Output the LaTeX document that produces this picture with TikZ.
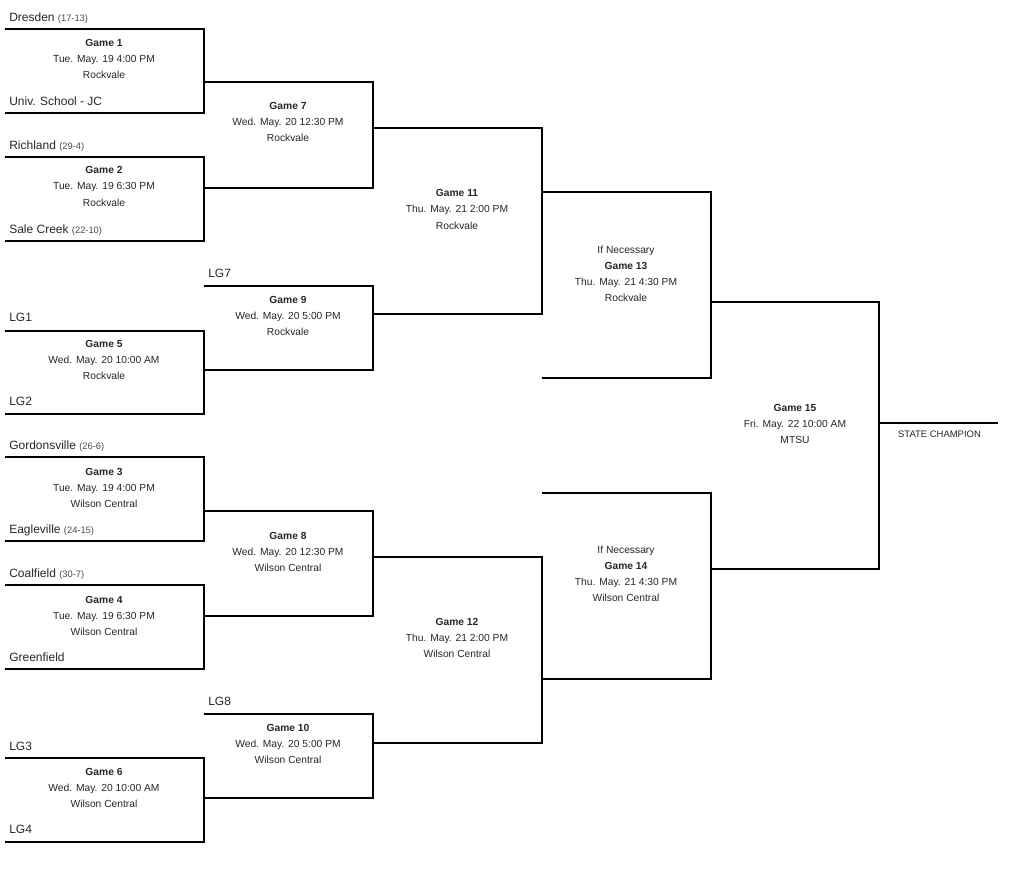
\documentclass[tikz,border=0pt]{standalone}
\usepackage{fontspec}
\setmainfont{Liberation Sans}
\definecolor{txt}{HTML}{262626}
\definecolor{rec}{HTML}{4A4A4A}
\tikzset{
  br/.style={draw=black, line width=1pt},
  team/.style={anchor=base west, inner sep=0pt, text=txt, font=\fontsize{9}{10}\selectfont},
  gtxt/.style={anchor=base, inner sep=0pt, text=txt, font=\fontsize{7.7}{9}\selectfont},
  gbold/.style={gtxt, font=\fontsize{7.7}{9}\selectfont\bfseries},
}
\newcommand{\rec}[1]{{\fontsize{7}{8}\selectfont\color{rec}#1}}
\newcommand{\bracketbox}[5]{%
  \coordinate (#1-tl) at (#2,#4);
  \coordinate (#1-tr) at (#3,#4);
  \coordinate (#1-br) at (#3,#5);
  \coordinate (#1-bl) at (#2,#5);
  \draw[br] (#1-tl) -- (#1-tr) -- (#1-br) -- (#1-bl);
}
\newcommand{\gameinfo}[6]{%
  \node[gbold] (#1-a) at (#2,#3+4) {#4};
  \node[gtxt] (#1-b) at (#2,#3+20) {#5};
  \node[gtxt] (#1-c) at (#2,#3+36) {#6};
}
\begin{document}
\begin{tikzpicture}[x=0.75pt,y=-0.75pt]
\useasboundingbox (0,0) rectangle (1010,870);
% brackets
\bracketbox{g1}{5}{204}{29}{113}
\bracketbox{g2}{5}{204}{157}{241}
\bracketbox{g5}{5}{204}{331}{414}
\bracketbox{g3}{5}{204}{457}{541}
\bracketbox{g4}{5}{204}{585}{669}
\bracketbox{g6}{5}{204}{758}{842}
\bracketbox{g7}{204}{373}{82}{188}
\bracketbox{g9}{204}{373}{286}{370}
\bracketbox{g8}{204}{373}{511}{616}
\bracketbox{g10}{204}{373}{714}{798}
\bracketbox{g11}{373}{542}{128}{314}
\bracketbox{g12}{373}{542}{557}{743}
\bracketbox{g13}{542}{711}{192}{378}
\bracketbox{g14}{542}{711}{493}{679}
\bracketbox{g15}{711}{879}{302}{569}
\coordinate (champ-a) at (879,423);
\coordinate (champ-b) at (998,423);
\draw[br] (champ-a) -- (champ-b);
% teams
\node[team] (t1) at (9,17+4.3) {Dresden \rec{(17-13)}};
\node[team] (t2) at (9,101+4.3) {Univ. School - JC};
\node[team] (t3) at (9,145+4.3) {Richland \rec{(29-4)}};
\node[team] (t4) at (9,229+4.3) {Sale Creek \rec{(22-10)}};
\node[team] (lg7) at (208,273+4.3) {LG7};
\node[team] (lg1) at (9,317+4.3) {LG1};
\node[team] (lg2) at (9,401+4.3) {LG2};
\node[team] (t5) at (9,445+4.3) {Gordonsville \rec{(26-6)}};
\node[team] (t6) at (9,529+4.3) {Eagleville \rec{(24-15)}};
\node[team] (t7) at (9,573+4.3) {Coalfield \rec{(30-7)}};
\node[team] (t8) at (9,657+4.3) {Greenfield};
\node[team] (lg8) at (208,701+4.3) {LG8};
\node[team] (lg3) at (9,746+4.3) {LG3};
\node[team] (lg4) at (9,829+4.3) {LG4};
% games
\gameinfo{i1}{104}{43}{Game 1}{Tue. May. 19 4:00 PM}{Rockvale}
\gameinfo{i2}{104}{170}{Game 2}{Tue. May. 19 6:30 PM}{Rockvale}
\gameinfo{i5}{104}{343}{Game 5}{Wed. May. 20 10:00 AM}{Rockvale}
\gameinfo{i3}{104}{471}{Game 3}{Tue. May. 19 4:00 PM}{Wilson Central}
\gameinfo{i4}{104}{599}{Game 4}{Tue. May. 19 6:30 PM}{Wilson Central}
\gameinfo{i6}{104}{771}{Game 6}{Wed. May. 20 10:00 AM}{Wilson Central}
\gameinfo{i7}{288}{106}{Game 7}{Wed. May. 20 12:30 PM}{Rockvale}
\gameinfo{i9}{288}{299}{Game 9}{Wed. May. 20 5:00 PM}{Rockvale}
\gameinfo{i8}{288}{535}{Game 8}{Wed. May. 20 12:30 PM}{Wilson Central}
\gameinfo{i10}{288}{727}{Game 10}{Wed. May. 20 5:00 PM}{Wilson Central}
\gameinfo{i11}{457}{193}{Game 11}{Thu. May. 21 2:00 PM}{Rockvale}
\gameinfo{i12}{457}{621}{Game 12}{Thu. May. 21 2:00 PM}{Wilson Central}
\node[gtxt] (i13-n) at (626,249+4) {If Necessary};
\gameinfo{i13}{626}{265}{Game 13}{Thu. May. 21 4:30 PM}{Rockvale}
\node[gtxt] (i14-n) at (626,549+4) {If Necessary};
\gameinfo{i14}{626}{565}{Game 14}{Thu. May. 21 4:30 PM}{Wilson Central}
\gameinfo{i15}{795}{407}{Game 15}{Fri. May. 22 10:00 AM}{MTSU}
\node[gtxt, font=\fontsize{7.1}{8}\selectfont] (champ) at (939.5,434+3.7) {STATE CHAMPION};
\end{tikzpicture}
\end{document}
